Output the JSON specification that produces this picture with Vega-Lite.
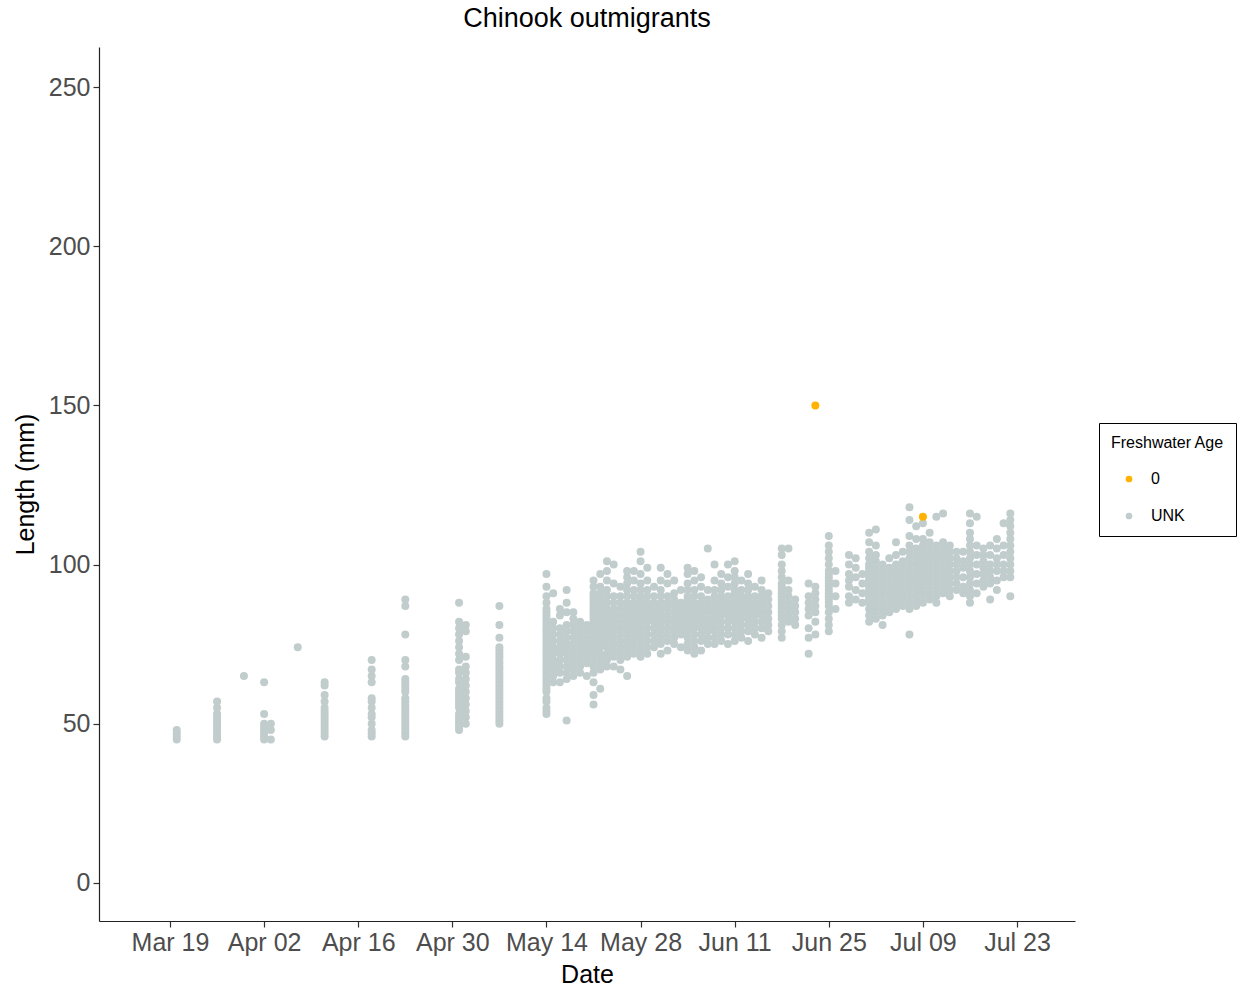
{
  "$schema": "https://vega.github.io/schema/vega-lite/v6.json",
  "width": 976,
  "height": 874,
  "autosize": "none",
  "padding": {"left": 99, "top": 47, "right": 163, "bottom": 66},
  "background": "white",
  "config": {
    "font": "Liberation Sans",
    "view": {"stroke": null},
    "axis": {"grid": false, "domainColor": "#222222", "tickColor": "#333333", "labelColor": "#4D4D4D", "labelFontSize": 25, "titleFontSize": 25, "titleFontWeight": "normal", "titleColor": "#000000", "tickSize": 6, "domainWidth": 1.2, "tickWidth": 1.2}
  },
  "title": {"text": "Chinook outmigrants", "fontSize": 27, "fontWeight": "normal", "color": "#000000", "anchor": "middle", "offset": 14},
  "datasets": {
    "unk": [
{"d":"2019-03-20","l":45},{"d":"2019-03-20","l":46},{"d":"2019-03-20","l":47},{"d":"2019-03-20","l":48},
{"d":"2019-03-26","l":45},{"d":"2019-03-26","l":46},{"d":"2019-03-26","l":47},{"d":"2019-03-26","l":48},{"d":"2019-03-26","l":49},{"d":"2019-03-26","l":50},{"d":"2019-03-26","l":51},{"d":"2019-03-26","l":52},{"d":"2019-03-26","l":53},{"d":"2019-03-26","l":55},{"d":"2019-03-26","l":57},
{"d":"2019-03-30","l":65},
{"d":"2019-04-02","l":45},{"d":"2019-04-02","l":46},{"d":"2019-04-02","l":47},{"d":"2019-04-02","l":48},{"d":"2019-04-02","l":49},{"d":"2019-04-02","l":50},{"d":"2019-04-02","l":53},{"d":"2019-04-02","l":63},
{"d":"2019-04-03","l":45},{"d":"2019-04-03","l":48},{"d":"2019-04-03","l":50},
{"d":"2019-04-07","l":74},
{"d":"2019-04-11","l":46},{"d":"2019-04-11","l":47},{"d":"2019-04-11","l":48},{"d":"2019-04-11","l":49},{"d":"2019-04-11","l":50},{"d":"2019-04-11","l":51},{"d":"2019-04-11","l":52},{"d":"2019-04-11","l":53},{"d":"2019-04-11","l":54},{"d":"2019-04-11","l":55},{"d":"2019-04-11","l":57},{"d":"2019-04-11","l":59},{"d":"2019-04-11","l":62},{"d":"2019-04-11","l":63},
{"d":"2019-04-18","l":46},{"d":"2019-04-18","l":47},{"d":"2019-04-18","l":48},{"d":"2019-04-18","l":50},{"d":"2019-04-18","l":52},{"d":"2019-04-18","l":53},{"d":"2019-04-18","l":55},{"d":"2019-04-18","l":57},{"d":"2019-04-18","l":58},{"d":"2019-04-18","l":63},{"d":"2019-04-18","l":65},{"d":"2019-04-18","l":67},{"d":"2019-04-18","l":70},
{"d":"2019-04-23","l":46},{"d":"2019-04-23","l":47},{"d":"2019-04-23","l":48},{"d":"2019-04-23","l":49},{"d":"2019-04-23","l":50},{"d":"2019-04-23","l":51},{"d":"2019-04-23","l":52},{"d":"2019-04-23","l":53},{"d":"2019-04-23","l":54},{"d":"2019-04-23","l":55},{"d":"2019-04-23","l":56},{"d":"2019-04-23","l":57},{"d":"2019-04-23","l":58},{"d":"2019-04-23","l":60},{"d":"2019-04-23","l":61},{"d":"2019-04-23","l":62},{"d":"2019-04-23","l":63},{"d":"2019-04-23","l":64},{"d":"2019-04-23","l":68},{"d":"2019-04-23","l":70},{"d":"2019-04-23","l":78},{"d":"2019-04-23","l":87},{"d":"2019-04-23","l":89},
{"d":"2019-05-01","l":48},{"d":"2019-05-01","l":49},{"d":"2019-05-01","l":50},{"d":"2019-05-01","l":51},{"d":"2019-05-01","l":52},{"d":"2019-05-01","l":53},{"d":"2019-05-01","l":55},{"d":"2019-05-01","l":56},{"d":"2019-05-01","l":57},{"d":"2019-05-01","l":58},{"d":"2019-05-01","l":59},{"d":"2019-05-01","l":60},{"d":"2019-05-01","l":61},{"d":"2019-05-01","l":63},{"d":"2019-05-01","l":64},{"d":"2019-05-01","l":66},{"d":"2019-05-01","l":67},{"d":"2019-05-01","l":70},{"d":"2019-05-01","l":72},{"d":"2019-05-01","l":74},{"d":"2019-05-01","l":76},{"d":"2019-05-01","l":78},{"d":"2019-05-01","l":80},{"d":"2019-05-01","l":82},{"d":"2019-05-01","l":88},
{"d":"2019-05-02","l":50},{"d":"2019-05-02","l":52},{"d":"2019-05-02","l":54},{"d":"2019-05-02","l":56},{"d":"2019-05-02","l":58},{"d":"2019-05-02","l":60},{"d":"2019-05-02","l":62},{"d":"2019-05-02","l":64},{"d":"2019-05-02","l":66},{"d":"2019-05-02","l":68},{"d":"2019-05-02","l":71},{"d":"2019-05-02","l":79},{"d":"2019-05-02","l":81},
{"d":"2019-05-07","l":50},{"d":"2019-05-07","l":51},{"d":"2019-05-07","l":52},{"d":"2019-05-07","l":53},{"d":"2019-05-07","l":54},{"d":"2019-05-07","l":55},{"d":"2019-05-07","l":56},{"d":"2019-05-07","l":57},{"d":"2019-05-07","l":58},{"d":"2019-05-07","l":59},{"d":"2019-05-07","l":60},{"d":"2019-05-07","l":61},{"d":"2019-05-07","l":62},{"d":"2019-05-07","l":63},{"d":"2019-05-07","l":64},{"d":"2019-05-07","l":65},{"d":"2019-05-07","l":66},{"d":"2019-05-07","l":67},{"d":"2019-05-07","l":68},{"d":"2019-05-07","l":69},{"d":"2019-05-07","l":70},{"d":"2019-05-07","l":71},{"d":"2019-05-07","l":72},{"d":"2019-05-07","l":73},{"d":"2019-05-07","l":74},{"d":"2019-05-07","l":77},{"d":"2019-05-07","l":81},{"d":"2019-05-07","l":87},
{"d":"2019-05-14","l":53},{"d":"2019-05-14","l":54},{"d":"2019-05-14","l":55},{"d":"2019-05-14","l":57},{"d":"2019-05-14","l":58},{"d":"2019-05-14","l":60},{"d":"2019-05-14","l":61},{"d":"2019-05-14","l":62},{"d":"2019-05-14","l":63},{"d":"2019-05-14","l":64},{"d":"2019-05-14","l":65},{"d":"2019-05-14","l":66},{"d":"2019-05-14","l":67},{"d":"2019-05-14","l":68},{"d":"2019-05-14","l":69},{"d":"2019-05-14","l":70},{"d":"2019-05-14","l":71},{"d":"2019-05-14","l":72},{"d":"2019-05-14","l":73},{"d":"2019-05-14","l":74},{"d":"2019-05-14","l":75},{"d":"2019-05-14","l":76},{"d":"2019-05-14","l":77},{"d":"2019-05-14","l":78},{"d":"2019-05-14","l":79},{"d":"2019-05-14","l":80},{"d":"2019-05-14","l":81},{"d":"2019-05-14","l":82},{"d":"2019-05-14","l":83},{"d":"2019-05-14","l":84},{"d":"2019-05-14","l":85},{"d":"2019-05-14","l":86},{"d":"2019-05-14","l":88},{"d":"2019-05-14","l":90},{"d":"2019-05-14","l":93},{"d":"2019-05-14","l":97},
{"d":"2019-05-15","l":63},{"d":"2019-05-15","l":65},{"d":"2019-05-15","l":67},{"d":"2019-05-15","l":69},{"d":"2019-05-15","l":70},{"d":"2019-05-15","l":72},{"d":"2019-05-15","l":74},{"d":"2019-05-15","l":76},{"d":"2019-05-15","l":78},{"d":"2019-05-15","l":80},{"d":"2019-05-15","l":82},{"d":"2019-05-15","l":91},
{"d":"2019-05-16","l":63},{"d":"2019-05-16","l":66},{"d":"2019-05-16","l":68},{"d":"2019-05-16","l":70},{"d":"2019-05-16","l":72},{"d":"2019-05-16","l":73},{"d":"2019-05-16","l":74},{"d":"2019-05-16","l":76},{"d":"2019-05-16","l":78},{"d":"2019-05-16","l":80},{"d":"2019-05-16","l":84},{"d":"2019-05-16","l":86},
{"d":"2019-05-17","l":51},{"d":"2019-05-17","l":64},{"d":"2019-05-17","l":66},{"d":"2019-05-17","l":68},{"d":"2019-05-17","l":70},{"d":"2019-05-17","l":72},{"d":"2019-05-17","l":74},{"d":"2019-05-17","l":75},{"d":"2019-05-17","l":77},{"d":"2019-05-17","l":79},{"d":"2019-05-17","l":81},{"d":"2019-05-17","l":85},{"d":"2019-05-17","l":88},{"d":"2019-05-17","l":92},
{"d":"2019-05-18","l":65},{"d":"2019-05-18","l":67},{"d":"2019-05-18","l":69},{"d":"2019-05-18","l":71},{"d":"2019-05-18","l":73},{"d":"2019-05-18","l":75},{"d":"2019-05-18","l":77},{"d":"2019-05-18","l":79},{"d":"2019-05-18","l":81},{"d":"2019-05-18","l":83},{"d":"2019-05-18","l":85},
{"d":"2019-05-19","l":66},{"d":"2019-05-19","l":68},{"d":"2019-05-19","l":70},{"d":"2019-05-19","l":72},{"d":"2019-05-19","l":74},{"d":"2019-05-19","l":76},{"d":"2019-05-19","l":78},{"d":"2019-05-19","l":80},{"d":"2019-05-19","l":82},
{"d":"2019-05-20","l":65},{"d":"2019-05-20","l":69},{"d":"2019-05-20","l":71},{"d":"2019-05-20","l":73},{"d":"2019-05-20","l":75},{"d":"2019-05-20","l":77},{"d":"2019-05-20","l":79},{"d":"2019-05-20","l":81},
{"d":"2019-05-21","l":56},{"d":"2019-05-21","l":59},{"d":"2019-05-21","l":63},{"d":"2019-05-21","l":66},{"d":"2019-05-21","l":68},{"d":"2019-05-21","l":70},{"d":"2019-05-21","l":72},{"d":"2019-05-21","l":73},{"d":"2019-05-21","l":74},{"d":"2019-05-21","l":75},{"d":"2019-05-21","l":76},{"d":"2019-05-21","l":77},{"d":"2019-05-21","l":78},{"d":"2019-05-21","l":79},{"d":"2019-05-21","l":80},{"d":"2019-05-21","l":81},{"d":"2019-05-21","l":82},{"d":"2019-05-21","l":83},{"d":"2019-05-21","l":84},{"d":"2019-05-21","l":85},{"d":"2019-05-21","l":86},{"d":"2019-05-21","l":87},{"d":"2019-05-21","l":88},{"d":"2019-05-21","l":89},{"d":"2019-05-21","l":90},{"d":"2019-05-21","l":91},{"d":"2019-05-21","l":93},{"d":"2019-05-21","l":95},
{"d":"2019-05-22","l":61},{"d":"2019-05-22","l":67},{"d":"2019-05-22","l":69},{"d":"2019-05-22","l":71},{"d":"2019-05-22","l":72},{"d":"2019-05-22","l":74},{"d":"2019-05-22","l":75},{"d":"2019-05-22","l":76},{"d":"2019-05-22","l":77},{"d":"2019-05-22","l":78},{"d":"2019-05-22","l":79},{"d":"2019-05-22","l":80},{"d":"2019-05-22","l":81},{"d":"2019-05-22","l":82},{"d":"2019-05-22","l":83},{"d":"2019-05-22","l":84},{"d":"2019-05-22","l":85},{"d":"2019-05-22","l":87},{"d":"2019-05-22","l":89},{"d":"2019-05-22","l":91},{"d":"2019-05-22","l":93},{"d":"2019-05-22","l":97},
{"d":"2019-05-23","l":68},{"d":"2019-05-23","l":70},{"d":"2019-05-23","l":72},{"d":"2019-05-23","l":74},{"d":"2019-05-23","l":76},{"d":"2019-05-23","l":78},{"d":"2019-05-23","l":79},{"d":"2019-05-23","l":80},{"d":"2019-05-23","l":81},{"d":"2019-05-23","l":82},{"d":"2019-05-23","l":83},{"d":"2019-05-23","l":84},{"d":"2019-05-23","l":85},{"d":"2019-05-23","l":86},{"d":"2019-05-23","l":88},{"d":"2019-05-23","l":90},{"d":"2019-05-23","l":92},{"d":"2019-05-23","l":95},{"d":"2019-05-23","l":98},{"d":"2019-05-23","l":101},
{"d":"2019-05-24","l":68},{"d":"2019-05-24","l":71},{"d":"2019-05-24","l":73},{"d":"2019-05-24","l":75},{"d":"2019-05-24","l":77},{"d":"2019-05-24","l":79},{"d":"2019-05-24","l":80},{"d":"2019-05-24","l":81},{"d":"2019-05-24","l":82},{"d":"2019-05-24","l":83},{"d":"2019-05-24","l":84},{"d":"2019-05-24","l":85},{"d":"2019-05-24","l":86},{"d":"2019-05-24","l":88},{"d":"2019-05-24","l":90},{"d":"2019-05-24","l":94},{"d":"2019-05-24","l":100},
{"d":"2019-05-25","l":67},{"d":"2019-05-25","l":70},{"d":"2019-05-25","l":72},{"d":"2019-05-25","l":74},{"d":"2019-05-25","l":76},{"d":"2019-05-25","l":78},{"d":"2019-05-25","l":80},{"d":"2019-05-25","l":82},{"d":"2019-05-25","l":84},{"d":"2019-05-25","l":86},{"d":"2019-05-25","l":88},{"d":"2019-05-25","l":90},{"d":"2019-05-25","l":93},
{"d":"2019-05-26","l":65},{"d":"2019-05-26","l":71},{"d":"2019-05-26","l":73},{"d":"2019-05-26","l":75},{"d":"2019-05-26","l":77},{"d":"2019-05-26","l":79},{"d":"2019-05-26","l":80},{"d":"2019-05-26","l":81},{"d":"2019-05-26","l":82},{"d":"2019-05-26","l":83},{"d":"2019-05-26","l":84},{"d":"2019-05-26","l":85},{"d":"2019-05-26","l":86},{"d":"2019-05-26","l":87},{"d":"2019-05-26","l":88},{"d":"2019-05-26","l":90},{"d":"2019-05-26","l":92},{"d":"2019-05-26","l":94},{"d":"2019-05-26","l":96},{"d":"2019-05-26","l":98},
{"d":"2019-05-27","l":72},{"d":"2019-05-27","l":74},{"d":"2019-05-27","l":76},{"d":"2019-05-27","l":78},{"d":"2019-05-27","l":80},{"d":"2019-05-27","l":81},{"d":"2019-05-27","l":82},{"d":"2019-05-27","l":83},{"d":"2019-05-27","l":84},{"d":"2019-05-27","l":85},{"d":"2019-05-27","l":86},{"d":"2019-05-27","l":88},{"d":"2019-05-27","l":90},{"d":"2019-05-27","l":92},{"d":"2019-05-27","l":95},{"d":"2019-05-27","l":98},
{"d":"2019-05-28","l":71},{"d":"2019-05-28","l":73},{"d":"2019-05-28","l":75},{"d":"2019-05-28","l":77},{"d":"2019-05-28","l":78},{"d":"2019-05-28","l":79},{"d":"2019-05-28","l":80},{"d":"2019-05-28","l":81},{"d":"2019-05-28","l":82},{"d":"2019-05-28","l":83},{"d":"2019-05-28","l":84},{"d":"2019-05-28","l":85},{"d":"2019-05-28","l":86},{"d":"2019-05-28","l":87},{"d":"2019-05-28","l":88},{"d":"2019-05-28","l":89},{"d":"2019-05-28","l":90},{"d":"2019-05-28","l":92},{"d":"2019-05-28","l":94},{"d":"2019-05-28","l":97},{"d":"2019-05-28","l":101},{"d":"2019-05-28","l":104},
{"d":"2019-05-29","l":72},{"d":"2019-05-29","l":74},{"d":"2019-05-29","l":76},{"d":"2019-05-29","l":78},{"d":"2019-05-29","l":80},{"d":"2019-05-29","l":82},{"d":"2019-05-29","l":83},{"d":"2019-05-29","l":84},{"d":"2019-05-29","l":85},{"d":"2019-05-29","l":86},{"d":"2019-05-29","l":87},{"d":"2019-05-29","l":88},{"d":"2019-05-29","l":90},{"d":"2019-05-29","l":92},{"d":"2019-05-29","l":95},{"d":"2019-05-29","l":99},
{"d":"2019-05-30","l":74},{"d":"2019-05-30","l":76},{"d":"2019-05-30","l":78},{"d":"2019-05-30","l":80},{"d":"2019-05-30","l":82},{"d":"2019-05-30","l":84},{"d":"2019-05-30","l":86},{"d":"2019-05-30","l":88},{"d":"2019-05-30","l":90},{"d":"2019-05-30","l":93},
{"d":"2019-05-31","l":72},{"d":"2019-05-31","l":75},{"d":"2019-05-31","l":77},{"d":"2019-05-31","l":79},{"d":"2019-05-31","l":81},{"d":"2019-05-31","l":82},{"d":"2019-05-31","l":83},{"d":"2019-05-31","l":84},{"d":"2019-05-31","l":85},{"d":"2019-05-31","l":86},{"d":"2019-05-31","l":87},{"d":"2019-05-31","l":88},{"d":"2019-05-31","l":90},{"d":"2019-05-31","l":92},{"d":"2019-05-31","l":95},{"d":"2019-05-31","l":99},
{"d":"2019-06-01","l":73},{"d":"2019-06-01","l":76},{"d":"2019-06-01","l":78},{"d":"2019-06-01","l":80},{"d":"2019-06-01","l":82},{"d":"2019-06-01","l":84},{"d":"2019-06-01","l":86},{"d":"2019-06-01","l":88},{"d":"2019-06-01","l":90},{"d":"2019-06-01","l":94},{"d":"2019-06-01","l":97},
{"d":"2019-06-02","l":75},{"d":"2019-06-02","l":77},{"d":"2019-06-02","l":79},{"d":"2019-06-02","l":81},{"d":"2019-06-02","l":83},{"d":"2019-06-02","l":85},{"d":"2019-06-02","l":87},{"d":"2019-06-02","l":89},{"d":"2019-06-02","l":91},{"d":"2019-06-02","l":95},
{"d":"2019-06-03","l":74},{"d":"2019-06-03","l":78},{"d":"2019-06-03","l":80},{"d":"2019-06-03","l":82},{"d":"2019-06-03","l":84},{"d":"2019-06-03","l":86},{"d":"2019-06-03","l":88},{"d":"2019-06-03","l":92},
{"d":"2019-06-04","l":73},{"d":"2019-06-04","l":75},{"d":"2019-06-04","l":77},{"d":"2019-06-04","l":79},{"d":"2019-06-04","l":80},{"d":"2019-06-04","l":81},{"d":"2019-06-04","l":82},{"d":"2019-06-04","l":83},{"d":"2019-06-04","l":84},{"d":"2019-06-04","l":85},{"d":"2019-06-04","l":86},{"d":"2019-06-04","l":87},{"d":"2019-06-04","l":88},{"d":"2019-06-04","l":89},{"d":"2019-06-04","l":90},{"d":"2019-06-04","l":92},{"d":"2019-06-04","l":94},{"d":"2019-06-04","l":97},{"d":"2019-06-04","l":99},
{"d":"2019-06-05","l":72},{"d":"2019-06-05","l":74},{"d":"2019-06-05","l":76},{"d":"2019-06-05","l":78},{"d":"2019-06-05","l":80},{"d":"2019-06-05","l":81},{"d":"2019-06-05","l":82},{"d":"2019-06-05","l":83},{"d":"2019-06-05","l":84},{"d":"2019-06-05","l":85},{"d":"2019-06-05","l":86},{"d":"2019-06-05","l":87},{"d":"2019-06-05","l":88},{"d":"2019-06-05","l":90},{"d":"2019-06-05","l":92},{"d":"2019-06-05","l":95},{"d":"2019-06-05","l":98},
{"d":"2019-06-06","l":73},{"d":"2019-06-06","l":76},{"d":"2019-06-06","l":78},{"d":"2019-06-06","l":80},{"d":"2019-06-06","l":82},{"d":"2019-06-06","l":84},{"d":"2019-06-06","l":86},{"d":"2019-06-06","l":88},{"d":"2019-06-06","l":90},{"d":"2019-06-06","l":93},{"d":"2019-06-06","l":96},
{"d":"2019-06-07","l":75},{"d":"2019-06-07","l":77},{"d":"2019-06-07","l":79},{"d":"2019-06-07","l":81},{"d":"2019-06-07","l":83},{"d":"2019-06-07","l":85},{"d":"2019-06-07","l":87},{"d":"2019-06-07","l":89},{"d":"2019-06-07","l":92},{"d":"2019-06-07","l":105},
{"d":"2019-06-08","l":75},{"d":"2019-06-08","l":77},{"d":"2019-06-08","l":79},{"d":"2019-06-08","l":80},{"d":"2019-06-08","l":81},{"d":"2019-06-08","l":82},{"d":"2019-06-08","l":83},{"d":"2019-06-08","l":84},{"d":"2019-06-08","l":85},{"d":"2019-06-08","l":86},{"d":"2019-06-08","l":87},{"d":"2019-06-08","l":88},{"d":"2019-06-08","l":90},{"d":"2019-06-08","l":92},{"d":"2019-06-08","l":95},{"d":"2019-06-08","l":100},
{"d":"2019-06-09","l":76},{"d":"2019-06-09","l":78},{"d":"2019-06-09","l":80},{"d":"2019-06-09","l":82},{"d":"2019-06-09","l":84},{"d":"2019-06-09","l":85},{"d":"2019-06-09","l":86},{"d":"2019-06-09","l":87},{"d":"2019-06-09","l":88},{"d":"2019-06-09","l":89},{"d":"2019-06-09","l":90},{"d":"2019-06-09","l":92},{"d":"2019-06-09","l":94},{"d":"2019-06-09","l":97},
{"d":"2019-06-10","l":75},{"d":"2019-06-10","l":78},{"d":"2019-06-10","l":80},{"d":"2019-06-10","l":82},{"d":"2019-06-10","l":84},{"d":"2019-06-10","l":86},{"d":"2019-06-10","l":88},{"d":"2019-06-10","l":90},{"d":"2019-06-10","l":93},{"d":"2019-06-10","l":96},{"d":"2019-06-10","l":100},
{"d":"2019-06-11","l":76},{"d":"2019-06-11","l":78},{"d":"2019-06-11","l":80},{"d":"2019-06-11","l":82},{"d":"2019-06-11","l":83},{"d":"2019-06-11","l":84},{"d":"2019-06-11","l":85},{"d":"2019-06-11","l":86},{"d":"2019-06-11","l":87},{"d":"2019-06-11","l":88},{"d":"2019-06-11","l":89},{"d":"2019-06-11","l":90},{"d":"2019-06-11","l":91},{"d":"2019-06-11","l":92},{"d":"2019-06-11","l":94},{"d":"2019-06-11","l":96},{"d":"2019-06-11","l":98},{"d":"2019-06-11","l":101},
{"d":"2019-06-12","l":77},{"d":"2019-06-12","l":79},{"d":"2019-06-12","l":81},{"d":"2019-06-12","l":83},{"d":"2019-06-12","l":85},{"d":"2019-06-12","l":86},{"d":"2019-06-12","l":87},{"d":"2019-06-12","l":88},{"d":"2019-06-12","l":89},{"d":"2019-06-12","l":90},{"d":"2019-06-12","l":92},{"d":"2019-06-12","l":95},
{"d":"2019-06-13","l":76},{"d":"2019-06-13","l":79},{"d":"2019-06-13","l":81},{"d":"2019-06-13","l":83},{"d":"2019-06-13","l":84},{"d":"2019-06-13","l":85},{"d":"2019-06-13","l":86},{"d":"2019-06-13","l":87},{"d":"2019-06-13","l":88},{"d":"2019-06-13","l":89},{"d":"2019-06-13","l":90},{"d":"2019-06-13","l":92},{"d":"2019-06-13","l":94},{"d":"2019-06-13","l":97},
{"d":"2019-06-14","l":78},{"d":"2019-06-14","l":80},{"d":"2019-06-14","l":82},{"d":"2019-06-14","l":84},{"d":"2019-06-14","l":86},{"d":"2019-06-14","l":88},{"d":"2019-06-14","l":90},{"d":"2019-06-14","l":93},
{"d":"2019-06-15","l":77},{"d":"2019-06-15","l":80},{"d":"2019-06-15","l":82},{"d":"2019-06-15","l":84},{"d":"2019-06-15","l":85},{"d":"2019-06-15","l":86},{"d":"2019-06-15","l":87},{"d":"2019-06-15","l":88},{"d":"2019-06-15","l":89},{"d":"2019-06-15","l":90},{"d":"2019-06-15","l":92},{"d":"2019-06-15","l":95},
{"d":"2019-06-16","l":79},{"d":"2019-06-16","l":81},{"d":"2019-06-16","l":83},{"d":"2019-06-16","l":85},{"d":"2019-06-16","l":87},{"d":"2019-06-16","l":89},{"d":"2019-06-16","l":91},
{"d":"2019-06-18","l":77},{"d":"2019-06-18","l":79},{"d":"2019-06-18","l":81},{"d":"2019-06-18","l":83},{"d":"2019-06-18","l":84},{"d":"2019-06-18","l":85},{"d":"2019-06-18","l":86},{"d":"2019-06-18","l":87},{"d":"2019-06-18","l":88},{"d":"2019-06-18","l":89},{"d":"2019-06-18","l":90},{"d":"2019-06-18","l":91},{"d":"2019-06-18","l":92},{"d":"2019-06-18","l":93},{"d":"2019-06-18","l":94},{"d":"2019-06-18","l":96},{"d":"2019-06-18","l":98},{"d":"2019-06-18","l":100},{"d":"2019-06-18","l":103},{"d":"2019-06-18","l":105},
{"d":"2019-06-19","l":82},{"d":"2019-06-19","l":84},{"d":"2019-06-19","l":86},{"d":"2019-06-19","l":88},{"d":"2019-06-19","l":90},{"d":"2019-06-19","l":92},{"d":"2019-06-19","l":95},{"d":"2019-06-19","l":105},
{"d":"2019-06-20","l":81},{"d":"2019-06-20","l":83},{"d":"2019-06-20","l":85},{"d":"2019-06-20","l":87},{"d":"2019-06-20","l":89},
{"d":"2019-06-22","l":72},{"d":"2019-06-22","l":77},{"d":"2019-06-22","l":80},{"d":"2019-06-22","l":84},{"d":"2019-06-22","l":86},{"d":"2019-06-22","l":88},{"d":"2019-06-22","l":90},{"d":"2019-06-22","l":94},
{"d":"2019-06-23","l":78},{"d":"2019-06-23","l":82},{"d":"2019-06-23","l":85},{"d":"2019-06-23","l":87},{"d":"2019-06-23","l":89},{"d":"2019-06-23","l":91},{"d":"2019-06-23","l":93},
{"d":"2019-06-25","l":79},{"d":"2019-06-25","l":81},{"d":"2019-06-25","l":83},{"d":"2019-06-25","l":85},{"d":"2019-06-25","l":87},{"d":"2019-06-25","l":88},{"d":"2019-06-25","l":89},{"d":"2019-06-25","l":90},{"d":"2019-06-25","l":91},{"d":"2019-06-25","l":92},{"d":"2019-06-25","l":93},{"d":"2019-06-25","l":94},{"d":"2019-06-25","l":95},{"d":"2019-06-25","l":96},{"d":"2019-06-25","l":97},{"d":"2019-06-25","l":98},{"d":"2019-06-25","l":100},{"d":"2019-06-25","l":102},{"d":"2019-06-25","l":104},{"d":"2019-06-25","l":106},{"d":"2019-06-25","l":109},
{"d":"2019-06-26","l":86},{"d":"2019-06-26","l":90},{"d":"2019-06-26","l":94},{"d":"2019-06-26","l":98},
{"d":"2019-06-28","l":88},{"d":"2019-06-28","l":90},{"d":"2019-06-28","l":93},{"d":"2019-06-28","l":95},{"d":"2019-06-28","l":97},{"d":"2019-06-28","l":100},{"d":"2019-06-28","l":103},
{"d":"2019-06-29","l":89},{"d":"2019-06-29","l":92},{"d":"2019-06-29","l":96},{"d":"2019-06-29","l":99},{"d":"2019-06-29","l":102},
{"d":"2019-06-30","l":88},{"d":"2019-06-30","l":91},{"d":"2019-06-30","l":94},{"d":"2019-06-30","l":97},
{"d":"2019-07-01","l":82},{"d":"2019-07-01","l":84},{"d":"2019-07-01","l":86},{"d":"2019-07-01","l":88},{"d":"2019-07-01","l":89},{"d":"2019-07-01","l":90},{"d":"2019-07-01","l":91},{"d":"2019-07-01","l":92},{"d":"2019-07-01","l":93},{"d":"2019-07-01","l":94},{"d":"2019-07-01","l":95},{"d":"2019-07-01","l":96},{"d":"2019-07-01","l":97},{"d":"2019-07-01","l":98},{"d":"2019-07-01","l":99},{"d":"2019-07-01","l":100},{"d":"2019-07-01","l":102},{"d":"2019-07-01","l":104},{"d":"2019-07-01","l":107},{"d":"2019-07-01","l":110},
{"d":"2019-07-02","l":83},{"d":"2019-07-02","l":85},{"d":"2019-07-02","l":87},{"d":"2019-07-02","l":89},{"d":"2019-07-02","l":91},{"d":"2019-07-02","l":93},{"d":"2019-07-02","l":95},{"d":"2019-07-02","l":97},{"d":"2019-07-02","l":99},{"d":"2019-07-02","l":101},{"d":"2019-07-02","l":103},{"d":"2019-07-02","l":106},{"d":"2019-07-02","l":111},
{"d":"2019-07-03","l":81},{"d":"2019-07-03","l":84},{"d":"2019-07-03","l":86},{"d":"2019-07-03","l":88},{"d":"2019-07-03","l":90},{"d":"2019-07-03","l":92},{"d":"2019-07-03","l":94},{"d":"2019-07-03","l":96},{"d":"2019-07-03","l":98},{"d":"2019-07-03","l":100},
{"d":"2019-07-04","l":85},{"d":"2019-07-04","l":87},{"d":"2019-07-04","l":89},{"d":"2019-07-04","l":91},{"d":"2019-07-04","l":93},{"d":"2019-07-04","l":95},{"d":"2019-07-04","l":97},{"d":"2019-07-04","l":99},{"d":"2019-07-04","l":102},
{"d":"2019-07-05","l":86},{"d":"2019-07-05","l":88},{"d":"2019-07-05","l":90},{"d":"2019-07-05","l":92},{"d":"2019-07-05","l":94},{"d":"2019-07-05","l":96},{"d":"2019-07-05","l":98},{"d":"2019-07-05","l":100},{"d":"2019-07-05","l":103},{"d":"2019-07-05","l":107},
{"d":"2019-07-06","l":87},{"d":"2019-07-06","l":89},{"d":"2019-07-06","l":91},{"d":"2019-07-06","l":93},{"d":"2019-07-06","l":95},{"d":"2019-07-06","l":97},{"d":"2019-07-06","l":99},{"d":"2019-07-06","l":101},{"d":"2019-07-06","l":104},
{"d":"2019-07-07","l":78},{"d":"2019-07-07","l":86},{"d":"2019-07-07","l":88},{"d":"2019-07-07","l":90},{"d":"2019-07-07","l":92},{"d":"2019-07-07","l":94},{"d":"2019-07-07","l":96},{"d":"2019-07-07","l":98},{"d":"2019-07-07","l":100},{"d":"2019-07-07","l":102},{"d":"2019-07-07","l":104},{"d":"2019-07-07","l":106},{"d":"2019-07-07","l":109},{"d":"2019-07-07","l":114},{"d":"2019-07-07","l":118},
{"d":"2019-07-08","l":87},{"d":"2019-07-08","l":89},{"d":"2019-07-08","l":91},{"d":"2019-07-08","l":93},{"d":"2019-07-08","l":94},{"d":"2019-07-08","l":95},{"d":"2019-07-08","l":96},{"d":"2019-07-08","l":97},{"d":"2019-07-08","l":98},{"d":"2019-07-08","l":99},{"d":"2019-07-08","l":100},{"d":"2019-07-08","l":101},{"d":"2019-07-08","l":102},{"d":"2019-07-08","l":103},{"d":"2019-07-08","l":105},{"d":"2019-07-08","l":108},{"d":"2019-07-08","l":112},
{"d":"2019-07-09","l":88},{"d":"2019-07-09","l":90},{"d":"2019-07-09","l":92},{"d":"2019-07-09","l":94},{"d":"2019-07-09","l":95},{"d":"2019-07-09","l":96},{"d":"2019-07-09","l":97},{"d":"2019-07-09","l":98},{"d":"2019-07-09","l":99},{"d":"2019-07-09","l":100},{"d":"2019-07-09","l":101},{"d":"2019-07-09","l":102},{"d":"2019-07-09","l":103},{"d":"2019-07-09","l":104},{"d":"2019-07-09","l":106},{"d":"2019-07-09","l":108},{"d":"2019-07-09","l":113},
{"d":"2019-07-10","l":89},{"d":"2019-07-10","l":91},{"d":"2019-07-10","l":93},{"d":"2019-07-10","l":95},{"d":"2019-07-10","l":97},{"d":"2019-07-10","l":99},{"d":"2019-07-10","l":100},{"d":"2019-07-10","l":101},{"d":"2019-07-10","l":102},{"d":"2019-07-10","l":103},{"d":"2019-07-10","l":105},{"d":"2019-07-10","l":107},{"d":"2019-07-10","l":110},
{"d":"2019-07-11","l":88},{"d":"2019-07-11","l":90},{"d":"2019-07-11","l":92},{"d":"2019-07-11","l":94},{"d":"2019-07-11","l":96},{"d":"2019-07-11","l":98},{"d":"2019-07-11","l":100},{"d":"2019-07-11","l":102},{"d":"2019-07-11","l":104},{"d":"2019-07-11","l":106},{"d":"2019-07-11","l":115},
{"d":"2019-07-12","l":91},{"d":"2019-07-12","l":93},{"d":"2019-07-12","l":95},{"d":"2019-07-12","l":97},{"d":"2019-07-12","l":99},{"d":"2019-07-12","l":101},{"d":"2019-07-12","l":103},{"d":"2019-07-12","l":105},{"d":"2019-07-12","l":107},{"d":"2019-07-12","l":116},
{"d":"2019-07-13","l":90},{"d":"2019-07-13","l":92},{"d":"2019-07-13","l":94},{"d":"2019-07-13","l":96},{"d":"2019-07-13","l":98},{"d":"2019-07-13","l":100},{"d":"2019-07-13","l":102},{"d":"2019-07-13","l":104},{"d":"2019-07-13","l":106},
{"d":"2019-07-14","l":92},{"d":"2019-07-14","l":94},{"d":"2019-07-14","l":96},{"d":"2019-07-14","l":98},{"d":"2019-07-14","l":100},{"d":"2019-07-14","l":102},{"d":"2019-07-14","l":104},
{"d":"2019-07-15","l":91},{"d":"2019-07-15","l":93},{"d":"2019-07-15","l":96},{"d":"2019-07-15","l":99},{"d":"2019-07-15","l":101},{"d":"2019-07-15","l":104},
{"d":"2019-07-16","l":88},{"d":"2019-07-16","l":90},{"d":"2019-07-16","l":92},{"d":"2019-07-16","l":94},{"d":"2019-07-16","l":96},{"d":"2019-07-16","l":98},{"d":"2019-07-16","l":100},{"d":"2019-07-16","l":102},{"d":"2019-07-16","l":104},{"d":"2019-07-16","l":106},{"d":"2019-07-16","l":108},{"d":"2019-07-16","l":110},{"d":"2019-07-16","l":113},{"d":"2019-07-16","l":116},
{"d":"2019-07-17","l":91},{"d":"2019-07-17","l":94},{"d":"2019-07-17","l":97},{"d":"2019-07-17","l":100},{"d":"2019-07-17","l":103},{"d":"2019-07-17","l":106},{"d":"2019-07-17","l":115},
{"d":"2019-07-18","l":93},{"d":"2019-07-18","l":95},{"d":"2019-07-18","l":97},{"d":"2019-07-18","l":99},{"d":"2019-07-18","l":101},{"d":"2019-07-18","l":103},{"d":"2019-07-18","l":105},
{"d":"2019-07-19","l":89},{"d":"2019-07-19","l":94},{"d":"2019-07-19","l":96},{"d":"2019-07-19","l":98},{"d":"2019-07-19","l":100},{"d":"2019-07-19","l":103},{"d":"2019-07-19","l":106},
{"d":"2019-07-20","l":92},{"d":"2019-07-20","l":95},{"d":"2019-07-20","l":98},{"d":"2019-07-20","l":100},{"d":"2019-07-20","l":102},{"d":"2019-07-20","l":105},{"d":"2019-07-20","l":108},
{"d":"2019-07-21","l":96},{"d":"2019-07-21","l":98},{"d":"2019-07-21","l":100},{"d":"2019-07-21","l":103},{"d":"2019-07-21","l":106},{"d":"2019-07-21","l":113},
{"d":"2019-07-22","l":90},{"d":"2019-07-22","l":96},{"d":"2019-07-22","l":98},{"d":"2019-07-22","l":100},{"d":"2019-07-22","l":102},{"d":"2019-07-22","l":104},{"d":"2019-07-22","l":106},{"d":"2019-07-22","l":108},{"d":"2019-07-22","l":110},{"d":"2019-07-22","l":112},{"d":"2019-07-22","l":114},{"d":"2019-07-22","l":116}
    ],
    "age0": [
{"d":"2019-06-23","l":150},{"d":"2019-07-09","l":115}
    ]
  },
  "encoding": {
    "x": {
      "field": "d", "type": "temporal", "title": "Date",
      "scale": {"type": "utc", "domain": [{"year": 2019, "month": 3, "date": 8, "hours": 10, "minutes": 30, "utc": true}, {"year": 2019, "month": 7, "date": 31, "hours": 15, "utc": true}]},
      "axis": {"format": "%b %d", "labelPadding": 3, "titlePadding": 7,
        "values": [
          {"year": 2019, "month": 3, "date": 19, "utc": true},
          {"year": 2019, "month": 4, "date": 2, "utc": true},
          {"year": 2019, "month": 4, "date": 16, "utc": true},
          {"year": 2019, "month": 4, "date": 30, "utc": true},
          {"year": 2019, "month": 5, "date": 14, "utc": true},
          {"year": 2019, "month": 5, "date": 28, "utc": true},
          {"year": 2019, "month": 6, "date": 11, "utc": true},
          {"year": 2019, "month": 6, "date": 25, "utc": true},
          {"year": 2019, "month": 7, "date": 9, "utc": true},
          {"year": 2019, "month": 7, "date": 23, "utc": true}
        ]}
    },
    "y": {
      "field": "l", "type": "quantitative", "title": "Length (mm)",
      "scale": {"domain": [-12, 262.6], "nice": false, "zero": false},
      "axis": {"values": [0, 50, 100, 150, 200, 250], "labelPadding": 3, "titlePadding": 10}
    }
  },
  "layer": [
    {
      "data": {"name": "unk"},
      "mark": {"type": "point", "filled": true, "shape": "circle", "size": 64, "opacity": 1},
      "encoding": {"color": {"datum": "UNK", "type": "nominal"}}
    },
    {
      "data": {"name": "age0"},
      "mark": {"type": "point", "filled": true, "shape": "circle", "size": 64, "opacity": 1},
      "encoding": {"color": {"datum": "0", "type": "nominal",
        "scale": {"domain": ["0", "UNK"], "range": ["#FFB300", "#C1CCCC"]},
        "legend": {"title": "Freshwater Age", "orient": "none", "legendX": 1000, "legendY": 376,
          "strokeColor": "#000000", "padding": 12, "titleFontSize": 16, "titleFontWeight": "normal", "titleColor": "#000000",
          "labelFontSize": 16, "labelColor": "#000000", "symbolType": "circle", "symbolSize": 45, "rowPadding": 21, "titlePadding": 20,
          "labelOffset": 14, "symbolOffset": 10}}}
    }
  ]
}
